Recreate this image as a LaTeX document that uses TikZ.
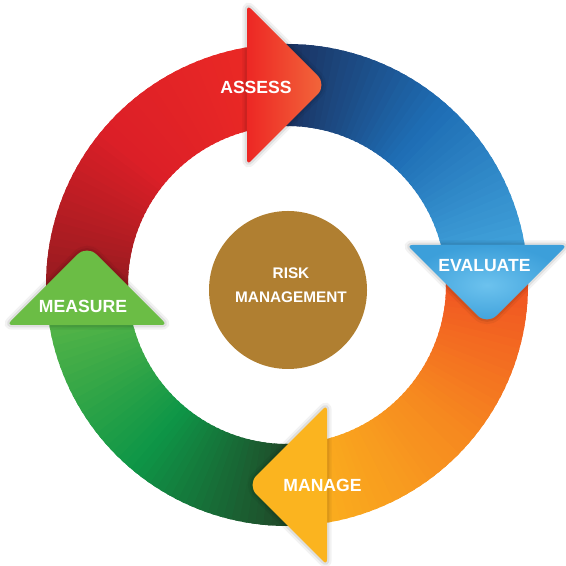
\documentclass[tikz,border=0pt]{standalone}
\usepackage{fontspec}
\setmainfont{Liberation Sans}
\usepackage{xcolor}
\usetikzlibrary{positioning}

% ring colours: start / middle / end of each band
\definecolor{redA}{HTML}{8E1A1F}
\definecolor{redB}{HTML}{DC1F27}
\definecolor{redC}{HTML}{EC2A25}
\definecolor{blueA}{HTML}{1A2A55}
\definecolor{blueB}{HTML}{1E6DB4}
\definecolor{blueC}{HTML}{45A8DF}
\definecolor{orangeA}{HTML}{F04E23}
\definecolor{orangeB}{HTML}{F6891F}
\definecolor{orangeC}{HTML}{FBB21E}
\definecolor{greenA}{HTML}{223F25}
\definecolor{greenB}{HTML}{0E9647}
\definecolor{greenC}{HTML}{5DB847}
% arrow heads and hub
\definecolor{redD}{HTML}{ED2724}
\definecolor{redE}{HTML}{F26A3C}
\definecolor{blueD}{HTML}{3C9FDA}
\definecolor{blueE}{HTML}{6CC2EE}
\definecolor{orangeD}{HTML}{FBB41F}
\definecolor{greenD}{HTML}{6BBD45}
\definecolor{riskbrown}{HTML}{B07F31}

\begin{document}
\begin{tikzpicture}[x=0.75pt, y=0.75pt,
    lbl/.style={text=white, font=\bfseries\fontsize{13.2}{15}\selectfont},
    headarr/.style={
        preaction={draw=black, opacity=0.05, line width=7pt},
        preaction={draw=black, opacity=0.08, line width=3.5pt}},
    redhead/.style={left color=redD, right color=redE},
    bluehead/.style={inner color=blueE, outer color=blueD},
    orangehead/.style={fill=orangeD},
    greenhead/.style={fill=greenD}
]
\useasboundingbox (0,0) rectangle (565,566);

\coordinate (hub) at (287,281);

\begin{scope}[shift={(hub)}]
% bands, drawn in thin slices so the colour runs along the ring
\foreach \sa/\ea/\ca/\cb/\cc in {186/93/redA/redB/redC, 96/3/blueA/blueB/blueC,
    6/-87/orangeA/orangeB/orangeC, -84/-177/greenA/greenB/greenC}{
  \foreach \i in {0,...,47}{
    \pgfmathsetmacro{\aa}{\sa+(\ea-\sa)*\i/48}
    \pgfmathsetmacro{\ab}{\sa+(\ea-\sa)*(\i+1.5)/48}
    \pgfmathtruncatemacro{\p}{round(200*\i/47)}
    \ifnum\p<101 \colorlet{slice}{\cb!\p!\ca}\else
      \pgfmathtruncatemacro{\q}{\p-100}\colorlet{slice}{\cc!\q!\cb}\fi
    \fill[slice] (\aa:241) arc[start angle=\aa, end angle=\ab, radius=241]
      -- (\ab:159) arc[start angle=\ab, end angle=\aa, radius=159] -- cycle;
  }
}

% heads on top of the bands
\foreach \r/\look in {0/redhead, -90/bluehead, 180/orangehead, 90/greenhead}
  \path[headarr, \look, rotate=\r] (-40,200) [rounded corners=4pt] -- (-40,120)
    [rounded corners=10pt] -- (40,200) [rounded corners=4pt] -- (-40,280) -- cycle;
\end{scope}

\node[lbl] (assess) at (256,479) {ASSESS};
\node[lbl] (evaluate) at (484.5,300) {EVALUATE};
\node[lbl] (manage) at (322.5,81) {MANAGE};
\node[lbl] (measure) at (83,260) {MEASURE};

\node[circle, fill=riskbrown, minimum size=118.5pt, inner sep=0pt] (risk) at (288,276) {};
\node[text=white, align=center, font=\bfseries\fontsize{11.5}{18}\selectfont]
  (risktext) at (291,281) {RISK\\MANAGEMENT};
\end{tikzpicture}
\end{document}
